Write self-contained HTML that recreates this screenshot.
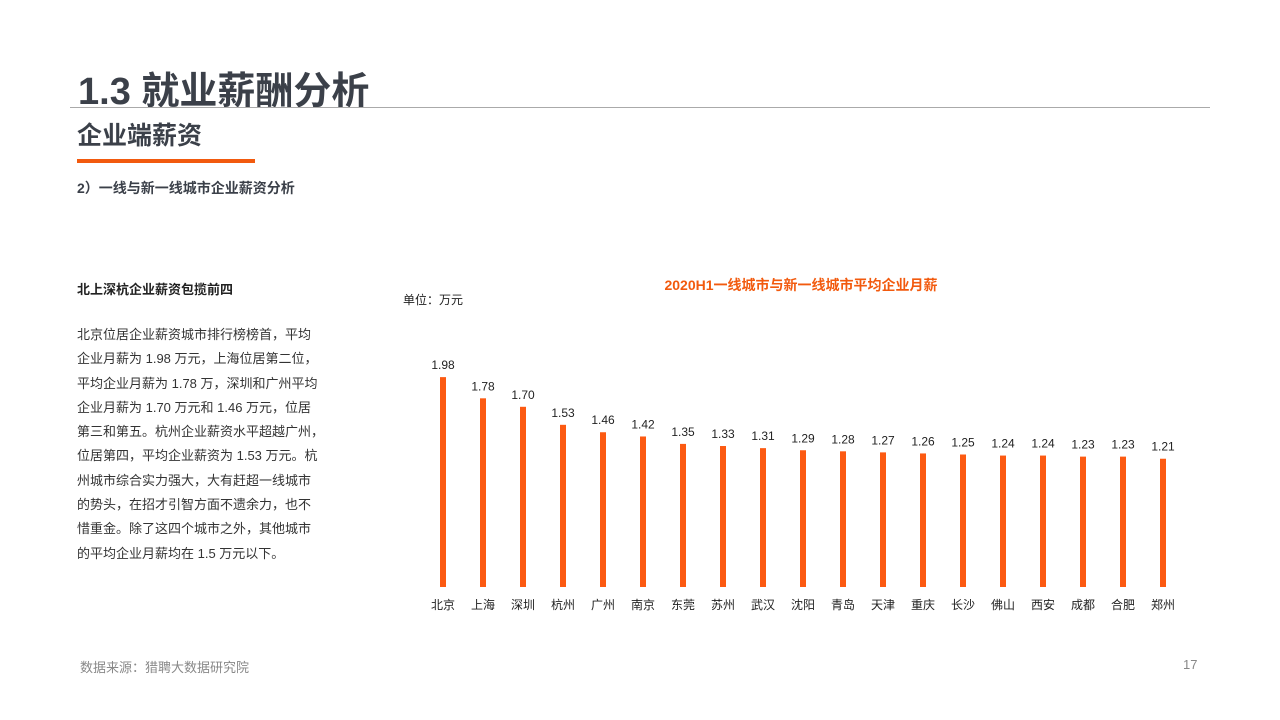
<!DOCTYPE html>
<html><head><meta charset="utf-8"><style>
body{margin:0;width:1280px;height:720px;background:#fff;position:relative;overflow:hidden;font-family:"Liberation Sans","Noto Sans CJK SC",sans-serif;color:#3a3f47}
.a{position:absolute;white-space:nowrap}
</style></head><body>
<div class="a" style="left:78px;top:60px;font-size:38px;font-weight:bold;color:#3b4049">1.3 就业薪酬分析</div>
<div class="a" style="left:70px;top:107px;width:1140px;height:1px;background:#aaa"></div>
<div class="a" style="left:77px;top:116px;font-size:25px;font-weight:bold;color:#3b4049">企业端薪资</div>
<div class="a" style="left:77px;top:159px;width:178px;height:4px;background:#f25a0e"></div>
<div class="a" style="left:77px;top:178px;font-size:14px;font-weight:bold;color:#3b4049">2）一线与新一线城市企业薪资分析</div>
<div class="a" style="left:77px;top:279px;font-size:13px;font-weight:bold;color:#222">北上深杭企业薪资包揽前四</div>
<div class="a" style="left:77px;top:323px;font-size:13px;line-height:24.3px;color:#333">北京位居企业薪资城市排行榜榜首，平均<br>企业月薪为 1.98 万元，上海位居第二位，<br>平均企业月薪为 1.78 万，深圳和广州平均<br>企业月薪为 1.70 万元和 1.46 万元，位居<br>第三和第五。杭州企业薪资水平超越广州，<br>位居第四，平均企业薪资为 1.53 万元。杭<br>州城市综合实力强大，大有赶超一线城市<br>的势头，在招才引智方面不遗余力，也不<br>惜重金。除了这四个城市之外，其他城市<br>的平均企业月薪均在 1.5 万元以下。</div>
<div class="a" style="left:80px;top:657px;font-size:13px;color:#888">数据来源：猎聘大数据研究院</div>
<div class="a" style="left:1183px;top:657px;font-size:13px;color:#888">17</div>
<svg class="a" style="left:0;top:0" width="1280" height="720">
<text x="801" y="290" text-anchor="middle" font-size="14" font-weight="bold" fill="#f25a0e">2020H1一线城市与新一线城市平均企业月薪</text>
<text x="403" y="304" font-size="12" fill="#222">单位：万元</text>
<g id="bars"></g>
</svg>
<script>
const cities=["北京","上海","深圳","杭州","广州","南京","东莞","苏州","武汉","沈阳","青岛","天津","重庆","长沙","佛山","西安","成都","合肥","郑州"];
const values=[1.98,1.78,1.70,1.53,1.46,1.42,1.35,1.33,1.31,1.29,1.28,1.27,1.26,1.25,1.24,1.24,1.23,1.23,1.21];
const labels=["1.98","1.78","1.70","1.53","1.46","1.42","1.35","1.33","1.31","1.29","1.28","1.27","1.26","1.25","1.24","1.24","1.23","1.23","1.21"];
const ns="http://www.w3.org/2000/svg";
const g=document.getElementById('bars');
const x=i=>443+i*40, y=v=>587-v*106;
cities.forEach((c,i)=>{
 const r=document.createElementNS(ns,'rect');
 
 
 r.setAttribute('x',x(i)-3);r.setAttribute('y',y(values[i]));r.setAttribute('width',6);r.setAttribute('height',587-y(values[i]));r.setAttribute('fill','#fc5a12');
 g.appendChild(r);
 const t=document.createElementNS(ns,'text');
 
 
 t.setAttribute('x',x(i));t.setAttribute('y',y(values[i])-8);t.setAttribute('text-anchor','middle');t.setAttribute('font-size','12');t.setAttribute('fill','#222');
 t.textContent=labels[i];g.appendChild(t);
 const l=document.createElementNS(ns,'text');
 
 
 l.setAttribute('x',x(i));l.setAttribute('y',609);l.setAttribute('text-anchor','middle');l.setAttribute('font-size','12');l.setAttribute('fill','#222');
 l.textContent=c;g.appendChild(l);
});
</script>
</body></html>
